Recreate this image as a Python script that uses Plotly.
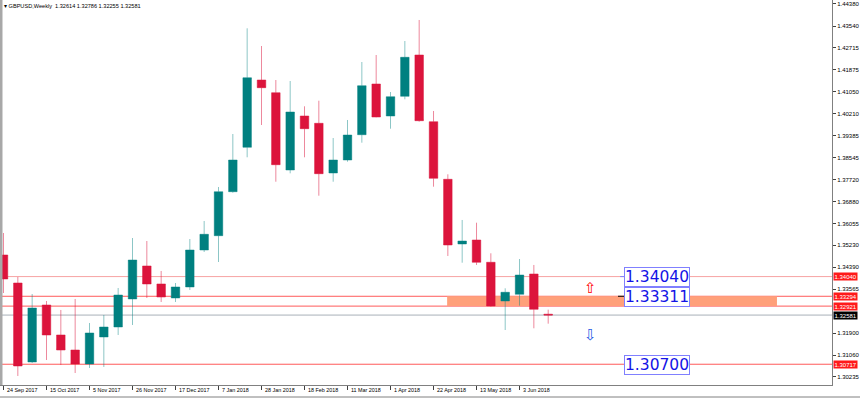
import plotly.graph_objects as go

# ---------------- data (weekly GBPUSD candles, index 0 = 24 Sep 2017) ----------------
open_ = [1.34859, 1.33797, 1.30802, 1.32963, 1.31826, 1.31257, 1.30727, 1.31750, 1.32129, 1.33191,
         1.34442, 1.33760, 1.33228, 1.33646, 1.35048, 1.35590, 1.37258, 1.38942, 1.41493, 1.41011,
         1.38081, 1.40128, 1.39851, 1.37967, 1.38460, 1.39419, 1.41341, 1.40128, 1.40875, 1.42441,
         1.39912, 1.37728, 1.35276, 1.35427, 1.34582, 1.33115, 1.33369, 1.34138, 1.32614]
high_ = [1.35693, 1.34025, 1.33380, 1.33115, 1.32774, 1.33191, 1.32281, 1.32584, 1.33608, 1.35503,
         1.35389, 1.34253, 1.33797, 1.35465, 1.36148, 1.37437, 1.39446, 1.43453, 1.42782, 1.41493,
         1.41455, 1.40496, 1.40708, 1.39294, 1.39977, 1.42175, 1.42441, 1.41038, 1.42971, 1.43768,
         1.40318, 1.37918, 1.36186, 1.36083, 1.34923, 1.33596, 1.34707, 1.34480, 1.32786]
low_ = [1.33418, 1.30272, 1.30764, 1.30878, 1.30689, 1.30385, 1.30575, 1.30613, 1.31826, 1.32205,
        1.33228, 1.33077, 1.33077, 1.33532, 1.34972, 1.34593, 1.37220, 1.38563, 1.39787, 1.37637,
        1.37956, 1.38563, 1.37107, 1.37637, 1.38396, 1.39116, 1.40079, 1.39647, 1.40761, 1.39912,
        1.37448, 1.34821, 1.34567, 1.34480, 1.32906, 1.32015, 1.32937, 1.32080, 1.32255]
close_ = [1.33949, 1.30651, 1.32849, 1.31826, 1.31257, 1.30727, 1.31902, 1.32129, 1.33342, 1.34669,
          1.33760, 1.33266, 1.33646, 1.35048, 1.35643, 1.37258, 1.38460, 1.41580, 1.41201, 1.38282,
          1.40280, 1.39647, 1.37941, 1.38460, 1.39408, 1.41277, 1.40090, 1.40860, 1.42354, 1.39950,
          1.37766, 1.35238, 1.35389, 1.34582, 1.32925, 1.33445, 1.34100, 1.32800, 1.32581]
week_idx = list(range(len(open_)))

date_tick_idx = [0, 3, 6, 9, 12, 15, 18, 21, 24, 27, 30, 33, 36]
date_tick_labels = ["24 Sep 2017", "15 Oct 2017", "5 Nov 2017", "26 Nov 2017", "17 Dec 2017",
                    "7 Jan 2018", "28 Jan 2018", "18 Feb 2018", "11 Mar 2018", "1 Apr 2018",
                    "22 Apr 2018", "13 May 2018", "3 Jun 2018"]

price_ticks = [1.44380, 1.43540, 1.42715, 1.41875, 1.41050, 1.40210, 1.39385, 1.38545, 1.37720,
               1.36880, 1.36055, 1.35230, 1.34390, 1.33565, 1.31900, 1.31060, 1.30235]

level_prices = [1.34040, 1.33294, 1.32921, 1.30717]
level_colors = ["#F7A3A3", "#FF5A5A", "#FF5A5A", "#FF5A5A"]
bid_price = 1.32581

zone_x = [30.95, 53.96]
zone_y = [1.32921, 1.33294]

box_labels = ["1.34040", "1.33311", "1.30700"]
box_prices = [1.34040, 1.33311, 1.30700]
box_x = 45.57

arrow_x = 40.93
arrow_up_y = 1.33608
arrow_down_y = 1.31826

title_text = "\u25BE GBPUSD,Weekly  1.32614 1.32786 1.32255 1.32581"

# ---------------- figure ----------------
fig = go.Figure()
fig.add_trace(go.Candlestick(
    x=week_idx, open=open_, high=high_, low=low_, close=close_,
    increasing=dict(fillcolor="#008080", line=dict(color="rgba(0,128,128,0.45)", width=1)),
    decreasing=dict(fillcolor="#DC143C", line=dict(color="rgba(220,20,60,0.5)", width=1)),
    whiskerwidth=0, showlegend=False, hoverinfo="x+y"))

shapes = []
shapes.append(dict(type="rect", xref="x", yref="y", x0=zone_x[0], x1=zone_x[1],
                   y0=zone_y[0], y1=zone_y[1], fillcolor="#FFA07A", line=dict(width=0),
                   layer="below"))
for p, c in zip(level_prices, level_colors):
    shapes.append(dict(type="line", xref="paper", yref="y", x0=0, x1=1, y0=p, y1=p,
                       line=dict(color=c, width=1), layer="below"))
shapes.append(dict(type="line", xref="paper", yref="y", x0=0, x1=1, y0=bid_price, y1=bid_price,
                   line=dict(color="#A9B0B8", width=1), layer="below"))
# left frame bar and bottom outer line
shapes.append(dict(type="line", xref="paper", yref="paper", x0=0.0015, x1=0.0015, y0=0, y1=1,
                   line=dict(color="#A8A8A8", width=2.5)))
shapes.append(dict(type="line", xref="paper", yref="paper", x0=0, x1=1.034, y0=-0.0312, y1=-0.0312,
                   line=dict(color="#808080", width=1)))
# small connectors at the label boxes
shapes.append(dict(type="line", xref="x", yref="y", x0=box_x - 2.55, x1=box_x - 2.27,
                   y0=box_prices[0], y1=box_prices[0], line=dict(color="#8080FF", width=1)))
shapes.append(dict(type="line", xref="x", yref="y", x0=box_x - 2.7, x1=box_x - 2.27,
                   y0=zone_y[1], y1=zone_y[1], line=dict(color="#000000", width=1)))

annotations = []
# date labels (left aligned at the tick)
for i, t in zip(date_tick_idx, date_tick_labels):
    annotations.append(dict(x=i, xref="x", y=-0.013, yref="paper", text=t, showarrow=False,
                            xanchor="left", yanchor="middle", xshift=1,
                            font=dict(family="Liberation Sans", size=5.4, color="#000000")))
# red price labels on the axis
for p in level_prices:
    annotations.append(dict(x=1, xref="paper", y=p, yref="y", text=f"{p:.5f}", showarrow=False,
                            xanchor="left", yanchor="middle", xshift=1, bgcolor="#FF1A1A",
                            borderpad=0.5, font=dict(family="Liberation Sans", size=6, color="#FFFFFF")))
annotations.append(dict(x=1, xref="paper", y=bid_price, yref="y", text=f"{bid_price:.5f}",
                        showarrow=False, xanchor="left", yanchor="middle", xshift=1, bgcolor="#000000",
                        borderpad=0.5, font=dict(family="Liberation Sans", size=6, color="#FFFFFF")))
# big boxed level labels
for k, (t, p) in enumerate(zip(box_labels, box_prices)):
    annotations.append(dict(x=box_x, xref="x", y=p, yref="y", text=t, showarrow=False,
                            xanchor="center", yanchor="middle", yshift=(-1 if k == 1 else 0),
                            bgcolor="#FFFFFF", bordercolor="#8080FF", borderwidth=1, borderpad=0,
                            font=dict(family="DejaVu Sans", size=15.5, color="#1414E6")))
# arrows
annotations.append(dict(x=arrow_x, xref="x", y=arrow_up_y, yref="y", text="\u21E7", showarrow=False,
                        font=dict(family="DejaVu Sans", size=15, color="#FF0000")))
annotations.append(dict(x=arrow_x, xref="x", y=arrow_down_y, yref="y", text="\u21E9", showarrow=False,
                        font=dict(family="DejaVu Sans", size=15, color="#1E5AE6")))
# title
annotations.append(dict(x=0, xref="paper", y=1, yref="paper", text=title_text, showarrow=False,
                        xanchor="left", yanchor="top", xshift=2, yshift=-1,
                        font=dict(family="Liberation Sans", size=5.6, color="#000000")))

fig.update_layout(
    width=860, height=398,
    margin=dict(l=0, r=28, t=0, b=13, autoexpand=False),
    paper_bgcolor="#FFFFFF", plot_bgcolor="#FFFFFF",
    boxgap=0.15,
    shapes=shapes, annotations=annotations,
    xaxis=dict(range=[-0.244, 57.8], rangeslider=dict(visible=False), showgrid=False,
               zeroline=False, tickmode="array", tickvals=date_tick_idx,
               ticktext=["" for _ in date_tick_idx], ticks="outside", ticklen=4,
               tickcolor="#404040", showline=True, linecolor="#808080", linewidth=1),
    yaxis=dict(range=[1.29930, 1.44526], side="right", showgrid=False, zeroline=False,
               tickmode="array", tickvals=price_ticks, ticktext=[f"{v:.5f}" for v in price_ticks],
               ticks="outside", ticklen=3, tickcolor="#404040",
               tickfont=dict(family="Liberation Sans", size=6, color="#000000"),
               showline=True, linecolor="#808080", linewidth=1),
    font=dict(family="Liberation Sans"),
    hovermode=False,
)

fig.write_html("out.html", config={"displayModeBar": False},
               post_script="document.body.style.margin='0';document.body.style.overflow='hidden';")
